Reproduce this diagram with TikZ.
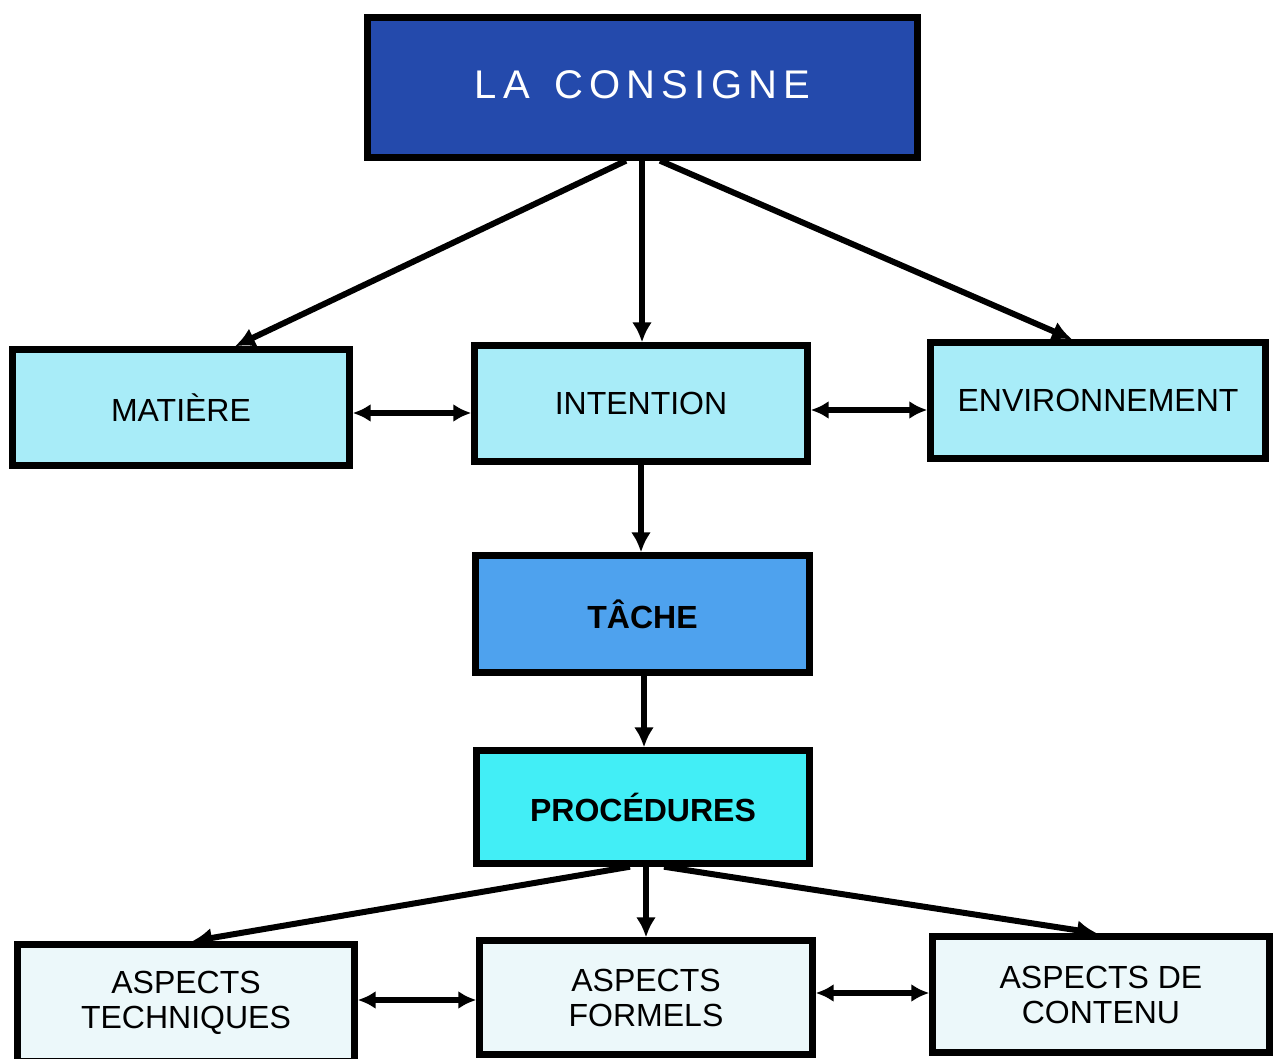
\documentclass[tikz,border=0pt]{standalone}
\usepackage{fontspec}
\setmainfont{Liberation Sans}
\usetikzlibrary{arrows.meta}
\definecolor{cdark}{RGB}{36,74,172}
\definecolor{clight}{RGB}{168,236,248}
\definecolor{cmid}{RGB}{78,162,238}
\definecolor{ccyan}{RGB}{66,238,246}
\definecolor{cpale}{RGB}{236,248,250}
\begin{document}
\begin{tikzpicture}[x=0.5pt,y=-0.5pt,
  box/.style={draw=black, line width=3.2pt, inner sep=0pt, align=center,
    font=\fontsize{16}{17.5}\selectfont},
  arr/.style={line width=3pt, -{Latex[length=10pt,width=10pt]}},
  darr/.style={line width=3pt, {Latex[length=9pt,width=9pt]}-{Latex[length=9pt,width=9pt]}}]
\useasboundingbox (0,0) rectangle (1276,1059);
\clip (0,0) rectangle (1276,1059);
\fill[white] (0,0) rectangle (1276,1059);

\node[box, fill=cdark, text=white, minimum width=275pt, minimum height=70pt,
  font=\fontsize{20}{24}\selectfont\addfontfeature{LetterSpace=15}]
  (consigne) at (642.5,87.5) {\raisebox{3pt}{LA\hspace{4pt} CONSIGNE}};

\node[box, fill=clight, minimum width=168.5pt, minimum height=58pt] (matiere) at (181,407.5) {MATIÈRE};
\node[box, fill=clight, minimum width=166.5pt, minimum height=58pt] (intention) at (641,403.5) {INTENTION};
\node[box, fill=clight, minimum width=167.5pt, minimum height=58pt] (environnement) at (1098,400.5) {ENVIRONNEMENT};

\node[box, fill=cmid, minimum width=167pt, minimum height=58.5pt, font=\fontsize{16}{17.5}\selectfont\bfseries] (tache) at (642.5,614) {TÂCHE};
\node[box, fill=ccyan, minimum width=166.5pt, minimum height=56.5pt, font=\fontsize{16}{17.5}\selectfont\bfseries] (procedures) at (643,807) {PROCÉDURES};

\node[box, fill=cpale, minimum width=168.5pt, minimum height=58.5pt] (techniques) at (186,1003) {ASPECTS\\TECHNIQUES};
\node[box, fill=cpale, minimum width=166.5pt, minimum height=57pt] (formels) at (646,997.5) {ASPECTS\\FORMELS};
\node[box, fill=cpale, minimum width=168.5pt, minimum height=58pt] (contenu) at (1101,994.5) {ASPECTS DE\\CONTENU};

\draw[arr] (consigne.south -| 626,0) -- (matiere.north -| 235,0);
\draw[arr] (consigne.south -| 642,0) -- (intention.north -| 642,0);
\draw[arr] (consigne.south -| 660,0) -- (environnement.north -| 1072,0);

\draw[darr] (matiere.east |- 0,413) -- (intention.west |- 0,413);
\draw[darr] (intention.east |- 0,410) -- (environnement.west |- 0,410);

\draw[arr] (intention.south -| 641,0) -- (tache.north -| 641,0);
\draw[arr] (tache.south -| 644,0) -- (procedures.north -| 644,0);

\draw[arr] (procedures.south -| 630,0) -- (techniques.north -| 192,0);
\draw[arr] (procedures.south -| 646,0) -- (formels.north -| 646,0);
\draw[arr] (procedures.south -| 664,0) -- (contenu.north -| 1097,0);

\draw[darr] (techniques.east |- 0,1000) -- (formels.west |- 0,1000);
\draw[darr] (formels.east |- 0,993) -- (contenu.west |- 0,993);
\end{tikzpicture}
\end{document}
